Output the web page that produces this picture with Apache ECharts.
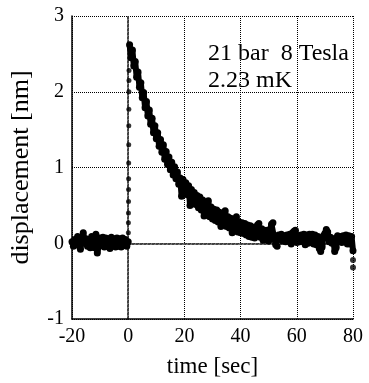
<!DOCTYPE html>
<html>
<head>
<meta charset="utf-8">
<script src="https://cdn.jsdelivr.net/npm/echarts@6/dist/echarts.min.js"></script>
<style>
  html, body { margin: 0; padding: 0; background: #fff; }
  #chart { width: 369px; height: 383px; }
</style>
</head>
<body>
<div id="chart"></div>
<script>
// baseline before the pulse, t = -20 ... 0 s, every 0.5 s
var baseStart = -20;
var baseStep = 0.5;
var baseValues = [
  0.02, -0.04, 0.05, -0.02, 0.09, -0.03, -0.08, 0.06, 0.14, 0.0,
  0.06, -0.04, 0.05, -0.06, 0.09, -0.02, -0.06, 0.12, -0.13, -0.04,
  0.07, -0.03, 0.08, -0.05, 0.07, -0.04, 0.06, -0.07, 0.08, -0.03,
  0.06, -0.05, 0.07, -0.04, 0.06, -0.05, 0.07, -0.03, 0.05, -0.04,
  0.02
];

// fast rise right after t = 0
var riseTime = [0.05, 0.07, 0.09, 0.11, 0.13, 0.15, 0.17, 0.19, 0.21, 0.23, 0.25, 0.27, 0.29];
var riseValues = [0.14, 0.27, 0.40, 0.55, 0.71, 0.85, 1.06, 1.30, 1.55, 1.77, 2.00, 2.15, 2.28];

// relaxation, t = 0.5 ... 80 s, every 0.5 s
var decayStart = 0.5;
var decayStep = 0.5;
var decayValues = [
  2.62, 2.45, 2.55, 2.34, 2.40, 2.19, 2.26, 2.06, 2.12, 1.92,
  1.99, 1.79, 1.87, 1.68, 1.76, 1.57, 1.65, 1.46, 1.55, 1.38,
  1.46, 1.28, 1.37, 1.20, 1.30, 1.11, 1.21, 1.04, 1.14, 0.97,
  1.07, 0.90, 1.01, 0.85, 0.94, 0.78, 0.86, 0.62, 0.84, 0.68,
  0.80, 0.64, 0.76, 0.50, 0.71, 0.54, 0.67, 0.51, 0.63, 0.47,
  0.61, 0.44, 0.57, 0.36, 0.54, 0.37, 0.56, 0.35, 0.48, 0.32,
  0.45, 0.30, 0.44, 0.28, 0.41, 0.22, 0.39, 0.24, 0.43, 0.22,
  0.35, 0.20, 0.33, 0.14, 0.31, 0.17, 0.35, 0.15, 0.28, 0.14,
  0.27, 0.13, 0.26, 0.11, 0.24, 0.09, 0.23, 0.08, 0.21, 0.07,
  0.18, 0.24, 0.26, 0.08, 0.19, 0.04, 0.17, 0.05, 0.17, 0.03,
  0.18, 0.25, 0.27, 0.06, -0.02, -0.04, 0.11, 0.05, 0.12, 0.03,
  0.10, 0.02, 0.11, 0.03, 0.12, -0.01, 0.14, 0.16, 0.17, 0.01,
  0.10, 0.02, 0.11, 0.03, 0.12, -0.02, 0.11, 0.00, 0.12, 0.01,
  0.12, -0.01, 0.11, -0.02, 0.09, -0.07, -0.11, -0.05, 0.10, 0.13,
  0.18, 0.15, 0.02, 0.08, 0.00, 0.06, -0.11, -0.06, 0.10, 0.03,
  0.09, 0.01, 0.10, 0.02, 0.11, -0.01, 0.10, -0.01, 0.09, -0.10
];
var tailTime = [80, 80];
var tailValues = [-0.22, -0.32];

var xTicks = [-20, 0, 20, 40, 60, 80];
var yTicks = [-1, 0, 1, 2, 3];

var baseData = baseValues.map(function (v, i) { return [baseStart + i * baseStep, v]; });
var riseData = riseTime.map(function (t, i) { return [t, riseValues[i]]; });
var decayData = decayValues.map(function (v, i) { return [decayStart + i * decayStep, v]; });
var tailData = tailTime.map(function (t, i) { return [t, tailValues[i]]; });

var font = "'Liberation Serif', 'DejaVu Serif', serif";
var gridLine = { show: true, lineStyle: { color: "#000", type: "dotted", width: 1 } };
var frameDotted = { show: true, lineStyle: { color: "#444", type: "dotted", width: 2 } };

var myChart = echarts.init(document.getElementById("chart"));
var option = {
  animation: false,
  backgroundColor: "#fff",
  grid: { left: 72, right: 16, top: 16, bottom: 58 },
  xAxis: [
    {
      type: "value",
      min: xTicks[0],
      max: xTicks[xTicks.length - 1],
      interval: 20,
      name: "time [sec]",
      nameLocation: "middle",
      nameGap: 36,
      nameTextStyle: { color: "#000", fontFamily: font, fontSize: 23 },
      axisLine: { show: true, onZero: false, lineStyle: { color: "#000", width: 1.5 } },
      axisTick: { show: false },
      axisLabel: { color: "#000", fontFamily: font, fontSize: 20, margin: 8 },
      splitLine: gridLine
    },
    {
      type: "value",
      position: "top",
      min: xTicks[0],
      max: xTicks[xTicks.length - 1],
      interval: 20,
      axisLine: frameDotted,
      axisTick: { show: false },
      axisLabel: { show: false },
      splitLine: { show: false }
    }
  ],
  yAxis: [
    {
      type: "value",
      min: yTicks[0],
      max: yTicks[yTicks.length - 1],
      interval: 1,
      name: "displacement [nm]",
      nameLocation: "middle",
      nameGap: 38,
      nameTextStyle: { color: "#000", fontFamily: font, fontSize: 26 },
      axisLine: { show: true, onZero: false, lineStyle: { color: "#000", width: 1.5 } },
      axisTick: { show: false },
      axisLabel: { color: "#000", fontFamily: font, fontSize: 20, margin: 8 },
      splitLine: gridLine
    },
    {
      type: "value",
      position: "right",
      min: yTicks[0],
      max: yTicks[yTicks.length - 1],
      interval: 1,
      axisLine: frameDotted,
      axisTick: { show: false },
      axisLabel: { show: false },
      splitLine: { show: false }
    }
  ],
  graphic: [
    {
      type: "text",
      left: 208,
      top: 42,
      style: { text: "21 bar  8 Tesla", fill: "#000", font: "24px " + font }
    },
    {
      type: "text",
      left: 208,
      top: 69,
      style: { text: "2.23 mK", fill: "#000", font: "24px " + font }
    }
  ],
  series: [
    {
      name: "baseline",
      type: "line",
      data: baseData,
      symbol: "circle",
      symbolSize: 7,
      showAllSymbol: true,
      itemStyle: { color: "#000" },
      lineStyle: { color: "#000", width: 6 }
    },
    {
      name: "rise",
      type: "scatter",
      data: riseData,
      symbolSize: 5,
      itemStyle: { color: "#000" }
    },
    {
      name: "decay",
      type: "line",
      data: decayData,
      symbol: "circle",
      symbolSize: 7,
      showAllSymbol: true,
      itemStyle: { color: "#000" },
      lineStyle: { color: "#000", width: 6 }
    },
    {
      name: "tail",
      type: "scatter",
      data: tailData,
      symbolSize: 6,
      itemStyle: { color: "#000" }
    }
  ]
};
myChart.setOption(option);
</script>
</body>
</html>
